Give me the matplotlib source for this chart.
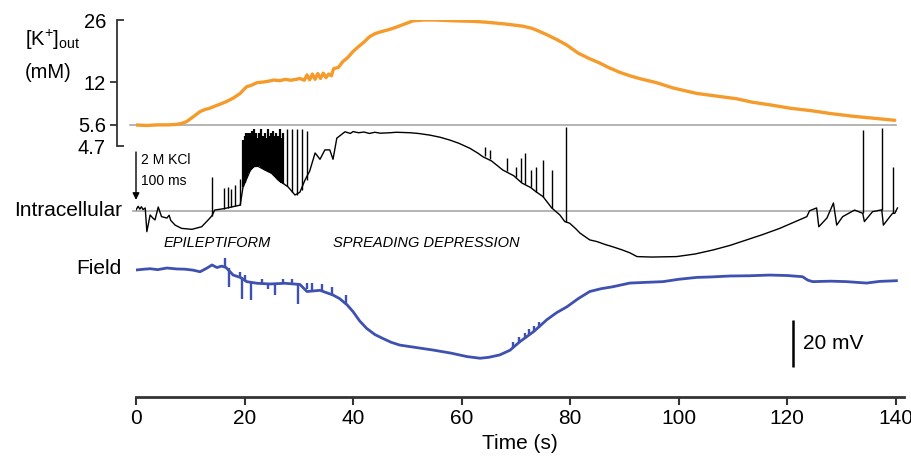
import numpy as np
import matplotlib.pyplot as plt

plt.rcParams['font.family'] = ['Liberation Sans', 'DejaVu Sans']
plt.rcParams['mathtext.fontset'] = 'custom'
plt.rcParams['mathtext.rm'] = 'Liberation Sans'
plt.rcParams['mathtext.it'] = 'Liberation Sans:italic'
NARROW = ['Liberation Sans Narrow', 'Liberation Sans']

# --- data ---
# extracellular potassium (s, mM)
k_time = [0, 2, 4, 6, 7.5, 8.5, 9.3, 10.5, 11.8, 12.7, 13.6, 14.5, 15.5, 16.7, 17.9, 19.2,
          20.0, 20.4, 21.2, 22.3, 23.5, 24.5, 25.4, 26.5, 27.5, 28.5, 29.5, 30.2,
          31, 31.5, 32, 32.5, 33, 33.5, 34, 34.5, 35, 35.5, 36, 36.4, 37.3, 38.1, 39, 40,
          41, 42, 43, 44, 45, 46.8, 48, 49.5, 51, 53, 55, 57, 59, 62, 64.6, 68, 71.3, 73,
          74.4, 76, 77.5, 79.3, 81.5, 83.5, 85.4, 87.2, 89.1, 91, 93, 95.9, 99, 103.3,
          107, 110.7, 113.5, 116.8, 120.5, 124.7, 128, 132.1, 136, 139.8]
k_conc = [5.6, 5.58, 5.62, 5.62, 5.7, 5.85, 6.1, 6.8, 7.6, 7.9, 8.1, 8.4, 8.7, 9.1, 9.6, 10.3,
          11.0, 11.3, 11.5, 11.9, 12.0, 12.2, 12.45, 12.3, 12.6, 12.4, 12.6, 12.8,
          12.4, 13.6, 12.5, 13.8, 12.6, 13.9, 12.8, 14.0, 13.0, 13.8, 13.4, 15.0, 15.3, 16.6, 17.5, 18.9,
          20.0, 21.0, 22.2, 22.9, 23.3, 23.9, 24.4, 25.1, 25.8, 26.0, 26.0, 25.9, 25.8, 25.7, 25.5, 25.1, 24.6, 24.1,
          23.4, 22.5, 21.6, 20.4, 18.5, 17.3, 16.3, 15.2, 14.2, 13.4, 12.7, 11.9, 11.1, 10.3,
          9.9, 9.5, 9.0, 8.6, 8.1, 7.7, 7.3, 6.9, 6.6, 6.3]

# intracellular membrane potential, mV relative to rest
ic_time = [0, 0.4, 0.7, 1.0, 1.3, 1.7, 2.0, 2.6, 3.1, 3.5, 4.1, 4.7, 5.7, 6.1, 6.4, 7.2,
           8.4, 10.3, 12.1, 13.3, 14.0, 14.5, 16.2, 18.2, 19.2, 19.7, 21.0, 21.5, 22.5,
           23.8, 25.0, 26.2, 28.0, 29.3, 30.2, 31.1, 32.0, 33.0, 33.9, 34.8, 35.7, 36.3,
           37.0, 38.5, 39.5, 40.0, 41.0, 42.0, 43.0, 44.0, 45.0, 46.8, 48.0, 50.5, 52.0,
           54.1, 56.0, 57.8, 59.5, 61.5, 63.0, 63.9, 65.5, 67.6, 69.6,
           71.1, 72.7, 73.7, 75.0, 76.6, 78.1, 79.0, 79.9, 81.0, 81.8, 83.6, 84.9, 86.5,
           87.8, 89.5, 91.0, 92.3, 95.0, 99.6, 103.0, 106.3, 109.5, 112.5, 115.5, 118.6,
           121.0, 123.6, 124.1, 125.4, 125.8, 127.3, 128.5, 129.1,
           130.2, 132.4, 133.9, 134.2, 135.7, 137.4, 137.7, 138.9, 139.4, 139.8, 140.3]
ic_mv = [0.5, 2.0, 0.8, 1.8, 0.6, 1.3, -8.8, -1.7, -3.0, -3.8, 1.7, -2.4, -3.0, -1.8, -4.0, -6.0,
         -7.4, -7.8, -6.7, -3.8, -2.0, 0.4, 1.0, 2.0, 2.5, 10.0, 17.0, 18.9, 19.0,
         17.4, 16.0, 13.2, 10.3, 6.8, 8.0, 13.0, 17.0, 24.7, 22.0, 26.0, 26.0, 22.0,
         31.0, 33.7, 33.0, 33.8, 33.3, 33.6, 33.0, 33.5, 33.1, 33.3, 33.5, 33.3, 33.0,
         32.3, 31.4, 30.2, 28.8, 26.7, 24.6, 23.1, 21.3, 17.4, 15.0,
         11.9, 10.0, 8.2, 6.1, 1.3, -1.7, -4.5, -5.2, -7.5, -9.4, -12.3, -13.0, -14.3,
         -15.2, -16.5, -17.8, -19.4, -19.6, -19.4, -18.3, -16.6, -14.6, -12.3, -10.0, -7.4,
         -5.0, -2.4, 0.1, 1.3, -6.7, -3.0, 3.4, -6.0,
         -2.4, 0.4, -1.0, -4.5, -0.3, 0.5, -6.0, -2.4, -1.0, -1.0, 1.3]

# action potentials: time (s), foot and peak (mV)
ap_time = [14.0, 16.2, 16.9, 17.5, 18.2, 19.2,
           19.8, 20.0, 20.2, 20.4, 20.6, 20.8, 21.0, 21.2, 21.4, 21.6, 21.8, 22.0, 22.2,
           22.4, 22.6, 22.8, 23.0, 23.2, 23.4, 23.6, 23.8, 24.0, 24.2, 24.4, 24.6, 24.8,
           25.0, 25.2, 25.4, 25.6, 25.8, 26.0, 26.2, 26.4, 26.6, 26.8, 27.0,
           27.8, 28.7, 29.7, 30.6, 31.5,
           64.3, 65.2, 68.3, 70.0, 70.9, 71.6, 72.7, 73.7, 74.9, 76.6, 79.2,
           133.9, 137.4, 139.4]
ap_foot = [-2, 1, 1.2, 1.5, 2, 2.5,
           10, 12, 13.5, 15, 16, 16.5, 17, 17.5, 18, 18.5, 19, 19, 19,
           19, 19, 19, 18.7, 18.4, 18, 17.7, 17.4, 17.2, 17, 16.8, 16.6, 16.3,
           16, 15.7, 15.3, 15, 14.5, 14, 13.2, 12.8, 12.3, 11.8, 11.4,
           10.5, 8, 6.8, 9, 13,
           23.3, 22, 17, 14.5, 12.5, 11.5, 10, 8.2, 6.1, 1.3, -4.5,
           -1, 0.5, -1]
ap_peak = [14.6, 9.8, 10, 9.5, 11, 13.6,
           30, 32, 33, 31, 33, 32, 33, 31, 34, 32, 35, 32, 33,
           31, 33, 32, 35, 31, 32, 30, 33, 31, 30, 35, 32, 33,
           31, 34, 32, 30, 33, 31, 32, 30, 35, 31, 33,
           35, 35, 35, 35, 34,
           27.4, 26, 22.4, 18.9, 22.4, 24.6, 17.4, 18.9, 21.6, 17.4, 35.6,
           34.5, 35.2, 18.9]

# field potential, mV relative to baseline
fp_time = [0, 1.5, 2.6, 4.0, 5.7, 7.5, 9.0, 10.5, 11.8, 13.1, 14.0, 14.9, 15.8, 16.6, 17.9,
           19.2, 20.4, 22.3, 24.7, 27.4, 30.2, 31.5, 33.9, 36.3, 37.5, 38.9, 40.0, 41.2,
           42.5, 44.0, 45.5, 47.0, 48.6, 51.5, 54.7, 58.0, 61.0, 63.4, 65.0, 67.0, 68.9,
           70.7, 72.0, 73.3, 74.5, 75.7, 77.5, 79.4, 81.5, 83.6, 85.7, 87.8, 91.0, 94.0,
           97.1, 100.0, 103.3, 106.0, 109.4, 113.0, 116.8, 120.0, 122.8, 123.8, 124.7,
           128.0, 130.9, 134.6, 137.0, 140.1]
fp_mv = [-0.85, -0.5, -0.3, -0.7, 0.0, -0.4, -0.5, -0.9, -1.6, 0.0, 1.3, 0.2, 0.8, 0.2, -3.0,
         -4.0, -5.8, -6.5, -6.8, -6.5, -7.0, -10.0, -9.5, -11.5, -13.0, -15.7, -18.6, -22.5,
         -25.7, -28.3, -30.0, -31.6, -32.8, -33.8, -34.9, -36.2, -37.7, -38.4, -38.0, -37.0, -35.0,
         -31.4, -29.2, -27.0, -24.5, -22.0, -19.0, -16.5, -13.0, -10.0, -8.8, -8.0, -6.4, -6.1,
         -5.8, -4.8, -4.0, -3.8, -3.4, -3.3, -3.0, -3.2, -3.7, -5.2, -5.8,
         -5.6, -5.8, -6.4, -5.7, -5.4]
fp_spk_time = [16.4, 17.1, 19.2, 19.5, 20.1, 21.1, 23.2, 24.3, 25.6, 27.1, 28.7, 29.8,
               31.5, 32.4, 34.3, 36.1, 38.7, 69.5, 70.6, 71.6, 72.5, 73.4, 74.3]
fp_spk_foot = [0.5, 0, -4, -4, -5, -6, -6.5, -6.7, -6.6, -6.5, -6.8, -7,
               -9, -9.5, -9.7, -11, -15.5, -34, -32, -30, -28.3, -27, -25.5]
fp_spk_tip = [4.2, -7.9, -1.5, -13.3, -3, -13.6, -4.5, -9, -11.5, -4.8, -4.8, -15.3,
              -6.3, -6.5, -7.0, -8, -11.5, -31.5, -29.5, -27.5, -26, -24.5, -23]

k_ticks = [4.7, 5.6, 12, 26]
time_ticks = [0, 20, 40, 60, 80, 100, 120, 140]

# --- layout ---
W, H = 912, 457
fig = plt.figure(figsize=(W / 100, H / 100), dpi=100)

ax = fig.add_axes([136 / W, 60 / H, 768 / W, 277 / H])
ax.set_facecolor('none')
ax.set_xlim(0, 141.5)
ax.set_ylim(-79.15, 38.72)

axk = fig.add_axes([136 / W, 1 - 146 / H, 768 / W, 126 / H])
axk.set_facecolor('none')
axk.set_xlim(0, 141.5)

# electrode calibration is non-linear: place the labelled concentrations
k_pos = [0, 21, 64, 126]
def k_fwd(v):
    return np.interp(v, k_ticks, k_pos)
def k_inv(p):
    return np.interp(p, k_pos, k_ticks)
axk.set_yscale('function', functions=(k_fwd, k_inv))
axk.set_ylim(4.7, 26)

# K+ trace
axk.axhline(5.6, xmin=-0.008, xmax=0.99, color='#a8a8a8', lw=1.2, clip_on=False, zorder=1)
axk.plot(k_time, k_conc, color='#f59b2b', lw=2.4, solid_capstyle='round', zorder=2)

for s in ['top', 'right', 'bottom']:
    axk.spines[s].set_visible(False)
axk.spines['left'].set_position(('outward', 19 * 0.72))
axk.spines['left'].set_color('#333333')
axk.spines['left'].set_linewidth(1.3)
axk.set_xticks([])
axk.set_yticks([5.6, 12], labels=['5.6', '12'])
axk.set_yticks([4.7, 26], labels=['4.7', '26'], minor=True)
axk.tick_params(axis='y', which='major', direction='out', length=5, width=1.3,
                color='#333333', pad=3, labelsize=14.5)
axk.tick_params(axis='y', which='minor', direction='in', length=5, width=1.3,
                color='#333333', pad=8, labelsize=14.5)

fig.text(25 / W, 1 - 40 / H, r'[K$^{+}$]$_{\mathrm{out}}$', fontsize=14.5, va='center')
fig.text(25 / W, 1 - 73 / H, '(mM)', fontsize=14.5, va='center')

# intracellular
ax.axhline(0, xmin=-0.004, xmax=0.99, color='#a8a8a8', lw=1.2, clip_on=False, zorder=1)
ax.plot(ic_time, ic_mv, color='black', lw=1.0, zorder=3)
# the epileptiform burst is so dense it prints as a solid block
ap_lw = [1.6 if 19.7 < t < 27.1 else 1.0 for t in ap_time]
ax.vlines(ap_time, ap_foot, ap_peak, color='black', linewidths=ap_lw, zorder=3)

# field
fp_offset = -24.26
ax.plot(fp_time, np.array(fp_mv) + fp_offset, color='#3f51b0', lw=2.0, zorder=3)
ax.vlines(fp_spk_time, np.array(fp_spk_foot) + fp_offset, np.array(fp_spk_tip) + fp_offset,
          color='#3f51b0', lw=1.7, zorder=3)

# KCl puff arrow
ax.annotate('', xy=(0, 4.7), xytext=(0, 25.1),
            arrowprops=dict(arrowstyle='-|>', color='black', lw=1.0, mutation_scale=10,
                            shrinkA=0, shrinkB=0))
ax.text(0.9, 21.7, '2 M KCl', fontsize=10, va='center')
ax.text(0.9, 12.8, '100 ms', fontsize=10, va='center')

ax.text(-2.6, 0, 'Intracellular', fontsize=15, ha='right', va='center', clip_on=False)
ax.text(-2.6, fp_offset, 'Field', fontsize=15, ha='right', va='center', clip_on=False)
ax.text(5.0, -13.6, 'EPILEPTIFORM', fontsize=10.5, style='italic', va='center')
ax.text(36.3, -13.6, 'SPREADING DEPRESSION', fontsize=10.5, style='italic', va='center')

# 20 mV scale bar
ax.vlines([121], [-66.4], [-46.4], color='black', lw=1.8)
ax.text(122.8, -56.2, '20 mV', fontsize=15, va='center')

# time axis
for s in ['top', 'right', 'left']:
    ax.spines[s].set_visible(False)
ax.spines['bottom'].set_color('#333333')
ax.spines['bottom'].set_linewidth(2)
ax.set_yticks([])
ax.set_xticks(time_ticks)
ax.set_xticklabels([str(t) for t in time_ticks], family=NARROW, fontsize=15)
ax.tick_params(axis='x', direction='out', length=6, width=1.5, color='#333333', pad=3)
ax.set_xlabel('Time (s)', family=NARROW, fontsize=15, labelpad=4)

fig.savefig('out.png', dpi=100)
